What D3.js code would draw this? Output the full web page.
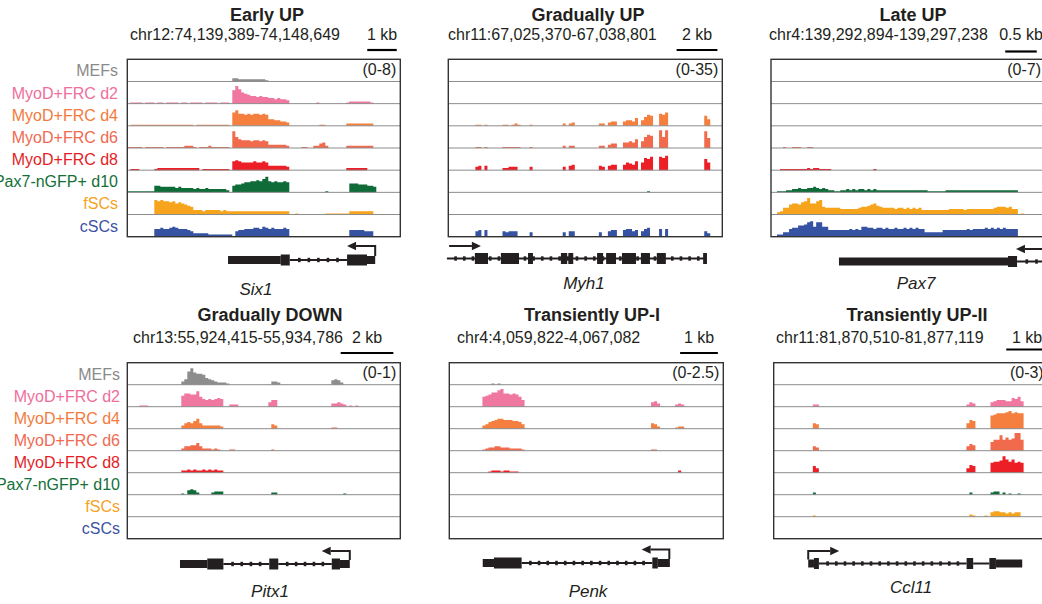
<!DOCTYPE html>
<html><head><meta charset="utf-8">
<script src="https://cdn.jsdelivr.net/npm/d3@7"></script>
<style>
body{margin:0;background:#fff}
svg{display:block}
text{font-family:"Liberation Sans",Arial,Helvetica,sans-serif;fill:#231f20}
</style>
</head><body>
<svg id="c" width="1042" height="604"></svg>
<script>
// ---------------- DATA ----------------
const trackNames = ["MEFs","MyoD+FRC d2","MyoD+FRC d4","MyoD+FRC d6","MyoD+FRC d8","Pax7-nGFP+ d10","fSCs","cSCs"];
const trackColors = ["#8d8d8d","#ef77a0","#f47f3f","#f26a4c","#ec1f27","#0f6b38","#f7a41d","#3552a3"];
const labelColors = ["#8a8a8a","#ee6f9d","#f27b3d","#f06a51","#e41e26","#137038","#f6a21e","#3c53a3"];

const panelTitles = ["Early UP","Gradually UP","Late UP","Gradually DOWN","Transiently UP-I","Transiently UP-II"];
const panelLoci = ["chr12:74,139,389-74,148,649","chr11:67,025,370-67,038,801","chr4:139,292,894-139,297,238",
                   "chr13:55,924,415-55,934,786","chr4:4,059,822-4,067,082","chr11:81,870,510-81,877,119"];
const scaleKb = [1, 2, 0.5, 2, 1, 1];
const scaleLabels = ["1 kb","2 kb","0.5 kb","2 kb","1 kb","1 kb"];
const dataMax = [8, 35, 7, 1, 2.5, 3];
const rangeLabels = ["(0-8)","(0-35)","(0-7)","(0-1)","(0-2.5)","(0-3)"];
const geneNames = ["Six1","Myh1","Pax7","Pitx1","Penk","Ccl11"];

// coverage: one character per bin (base-36 level, 20 = track maximum), groups of 10 bins
const covEarlyUp = [
 "0000000000 0000000000 0000000000 0000033222 2222221000",
 "0111101110 1101111011 0111101111 01110cgda9 8776766554 5443000000 0001000000 0001222222 2100000000",
 "0111111111 1111111111 1101111111 11110cebba babbaba665 5443000000 0000110000 0002222222 2200000000",
 "1111101111 1101111112 2210111211 11110fa877 7677676333 3332000011 0022452000 0002222222 2200000000",
 "0111000001 2222222222 2222011111 1111089877 7787787444 4443000000 0000000000 0002222222",
 "1111111116 6555554544 4434334333 3332067789 9aabacea9a 99a9000000 0000001000 0000888777 6650000000",
 "000000000d cdccbcaba9 8744434444 4343333333 3333333333 3333001000 0000001111 1111333333 3300000000",
 "0000000007 7877898777 6533333222 2222205667 7788798787 7787000000 0000000000 0000666665 5500000000"
];
const covGraduallyUp = [
 "",
 "",
 "0000000001 1010000011 0121000100 0000000020 2300000000 2203440045 547058a900 bac0000000 0000096000",
 "0000000001 1010000011 1111000100 0000000020 2200000000 2203440055 65806acb00 gag0000000 00000f9000",
 "0000000003 4040000022 3330000300 0000000030 4500000000 4304550057 65807bac00 cbd0000000 00000a7000",
 "0000000000 0000000000 0000000000 0000000000 0000000000 0000000000 0000001000",
 "",
 "0000000005 6060000054 5550000400 0000000040 5500000000 4005660067 7560578000 7070000000 0000053000"
];
const covLateUp = [
 "",
 "",
 "",
 "0000100111 0011000000",
 "0001111111 1121221111 0000000000 0000100000",
 "0011122334 3344543432 2112232323 3232322222 2222222222 2211111122 2222222222 2222222222 2200000000",
 "0023669aa9 bcfaacd766 6665555556 7789a87666 6566565656 4444444445 5555455555 5555677767 5501000000",
 "002244788a abde9dd996 6666667676 9988788787 7877878787 7444444666 6666676777 7878787877 7700000000"
];
const covGraduallyDown = [
 "0000000000 0000000035 cfbaa96543 2221000000 0000000033 2000000000 0000000045 4200000000",
 "0000111000 00000000ac cbbe976767 8700222000 0000000466 0000000000 0000000033 4320101000",
 "0000000000 0000000035 6579533333 3200000000 0000000043 0000000000 0000000011",
 "0000000000 0000000024 4557422212 1000110000 0000000010",
 "0000000000 0000000022 3232232323 2200000000",
 "0000000000 0000000010 4542000023 3300000000 0000000022 0000000000 0000000000 0010000000",
 "",
 ""
];
const covTransientlyUp1 = [
 "0000000000 0000101000",
 "0000000000 09abddfgcc bcb9600000 0000000000 0000000000 0000000000 0000000453 0000023200",
 "0000000000 0346789988 8776400000 0000000000 0000000000 0000000000 0000000542 0000012200",
 "0000000000 0123344333 2222100000 0000000000 0000000000 0000000000 0000000110",
 "0000000000 0001222122 1110000000 0000000000 0000000000 0000000000 0000000000 0000002000",
 "",
 "",
 ""
];
const covTransientlyUp2 = [
 "",
 "0000000000 0002200000 0000000000 0000000000 0000000000 0000000000 0000243000 0045666558 7950000000",
 "0000000000 0005400000 0000000000 0000000000 0000000000 0000000000 0000587000 00cdeeefge fee0000000",
 "0000000000 0004300000 0000000000 0000000000 0000000000 0000000000 0000465000 008aaeacab gga0000000",
 "0000000000 0006400000 0000000000 0000000000 0000000000 0000000000 0000476000 009aabfcac 9a90000000",
 "0000000000 0002000000 0000000000 0000000000 0000000000 0000000000 0000020000 0023302010 0100000000",
 "0000000000 0001000000 0000000000 0000000000 0000000000 0000000000 0000021000 1045544343 4400000000",
 ""
];
const coverageSets = [covEarlyUp, covGraduallyUp, covLateUp, covGraduallyDown, covTransientlyUp1, covTransientlyUp2];

// gene models, positions in % of the window
const geneSix1  = [["utr",36.9,56.2],["exon",56.2,59.5],["intron",59.5,80.5],["exon",80.5,87.8],["utr",87.8,90.8]];
const geneMyh1  = [["intron",-0.5,94.4],["exon",9.7,14.5],["exon",19.2,25.8],["exon",29.1,30.9],["exon",41.1,43.4],
                   ["exon",43.8,45.6],["exon",54.3,56.5],["exon",57.6,61.2],["exon",63.4,68.5],["exon",70.3,73.6],
                   ["exon",76.1,79.4],["exon",93.0,94.4]];
const genePax7  = [["utr",24.8,86.5],["exon",86.5,89.8],["intron",89.8,104]];
const genePitx1 = [["utr",19.3,29.3],["exon",29.3,35.2],["intron",35.2,52.0],["exon",52.0,55.3],["intron",55.3,74.9],["exon",74.9,77.9],["utr",77.9,81.5]];
const genePenk  = [["utr",12.2,16.3],["exon",16.3,26.4],["intron",26.4,74.1],["exon",74.1,76.1],["utr",76.1,80.5]];
const geneCcl11 = [["utr",12.6,14.7],["exon",14.7,16.5],["intron",16.5,70.4],["exon",70.4,72.8],["intron",72.8,78.7],["exon",78.7,81.1],["utr",81.1,90.7]];
const geneModels = [geneSix1, geneMyh1, genePax7, genePitx1, genePenk, geneCcl11];
// transcription start arrows: [start %, tip %, with riser]
const tssArrows = [[90.8,80.5,true],[0.3,11.9,false],[101,89.4,false],[81.5,71.2,true],[80.3,70.2,true],[12.6,23.9,true]];

// ---------------- LAYOUT ----------------
const layout = [
 {x0:127.3,y0:59.3,w:273,h:177.4,tX:267,tY:21,locX:130,locY:40,kbX:382,barY:50,geneY:260,arrY:246,nX:256,nY:295,labels:true,lX:118},
 {x0:448.3,y0:59.3,w:274,h:177.4,tX:588,tY:21,locX:448,locY:40,kbX:697,barY:50,geneY:258.5,arrY:246,nX:584,nY:289},
 {x0:771,y0:59.3,w:274,h:177.4,tX:913,tY:21,locX:769,locY:40,kbX:1021,barY:51.5,geneY:261.5,arrY:249,nX:916,nY:289},
 {x0:127.3,y0:362.7,w:273,h:176,tX:270,tY:321,locX:133,locY:343,kbX:367,barY:353,geneY:564,arrY:551,nX:270,nY:597,labels:true,lX:120},
 {x0:449.3,y0:362.7,w:274,h:176,tX:592,tY:321,locX:457,locY:343,kbX:699,barY:353,geneY:563,arrY:549.5,nX:588,nY:597},
 {x0:773.7,y0:362.7,w:274,h:176,tX:917,tY:321,locX:776,locY:343,kbX:1027,barY:349.5,geneY:563.5,arrY:551,nX:911,nY:593}
];

// ---------------- DRAW ----------------
const svg = d3.select("#c");
const defs = svg.append("defs");

panelTitles.forEach((title, pi) => {
  const L = layout[pi];
  const g = svg.append("g");
  const nT = trackNames.length;
  const rowH = L.h / nT;

  // header
  g.append("text").attr("x", L.tX).attr("y", L.tY).attr("text-anchor","middle")
    .style("font-size","18px").style("font-weight","bold").text(title);
  g.append("text").attr("x", L.locX).attr("y", L.locY).style("font-size","16px").text(panelLoci[pi]);
  g.append("text").attr("x", L.kbX).attr("y", L.locY).attr("text-anchor","middle").style("font-size","16px").text(scaleLabels[pi]);

  // genomic scale for the scale bar
  const m = panelLoci[pi].replace(/,/g,"").match(/:(\d+)-(\d+)/);
  const gStart = +m[1], gEnd = +m[2];
  const gScale = d3.scaleLinear().domain([gStart, gEnd]).range([L.x0, L.x0 + L.w]);
  const barW = gScale(gStart + scaleKb[pi]*1000) - gScale(gStart);
  g.append("line").attr("x1", L.kbX - barW/2).attr("x2", L.kbX + barW/2)
    .attr("y1", L.barY).attr("y2", L.barY).attr("stroke","#000").attr("stroke-width",2.2);

  // clip
  const cid = "clip" + pi;
  defs.append("clipPath").attr("id", cid).append("rect")
    .attr("x", L.x0).attr("y", L.y0).attr("width", L.w).attr("height", L.h);

  const binX = d3.scaleLinear().domain([0, 91]).range([L.x0, L.x0 + L.w]);
  const cov = coverageSets[pi];
  const covG = g.append("g").attr("clip-path", `url(#${cid})`);

  cov.forEach((str, ti) => {
    const levels = str.replace(/ /g, "").split("").map(c => parseInt(c, 36) / 20 * dataMax[pi]);
    if (!levels.some(v => v > 0)) return;
    const base = L.y0 + rowH * (ti + 1);
    const y = d3.scaleLinear().domain([0, dataMax[pi]]).range([base, base - rowH]);
    const pts = levels.map((v, i) => ({v, i}));
    pts.push({v: 0, i: levels.length});
    const area = d3.area().curve(d3.curveStepAfter)
      .x(d => binX(d.i)).y0(base).y1(d => y(d.v));
    covG.append("path").attr("d", area(pts)).attr("fill", trackColors[ti]);
  });

  // grid lines between tracks
  for (let i = 1; i < nT; i++) {
    const yy = L.y0 + rowH * i;
    g.append("line").attr("x1", L.x0).attr("x2", L.x0 + L.w).attr("y1", yy).attr("y2", yy)
      .attr("stroke", "#8c8c8c").attr("stroke-width", 1);
  }
  // frame
  g.append("rect").attr("x", L.x0).attr("y", L.y0).attr("width", L.w).attr("height", L.h)
    .attr("fill", "none").attr("stroke", "#333").attr("stroke-width", 1.4);

  g.append("text").attr("x", L.x0 + L.w - 4).attr("y", L.y0 + 15.5).attr("text-anchor","end")
    .style("font-size","16px").text(rangeLabels[pi]);

  // track labels
  if (L.labels) {
    trackNames.forEach((nm, ti) => {
      g.append("text").attr("x", L.lX).attr("y", L.y0 + rowH * (ti + 0.5) + 6)
        .attr("text-anchor","end").style("font-size","16px").style("fill", labelColors[ti]).text(nm);
    });
  }

  // gene model
  const gx = d3.scaleLinear().domain([0, 100]).range([L.x0, L.x0 + L.w]);
  const gy = L.geneY;
  geneModels[pi].forEach(([type, a, b]) => {
    if (type === "intron") {
      g.append("line").attr("x1", gx(a)).attr("x2", gx(b)).attr("y1", gy).attr("y2", gy)
        .attr("stroke", "#231f20").attr("stroke-width", 2);
      const x1 = gx(a), x2 = gx(b);
      const n = Math.floor((x2 - x1) / 8.5);
      for (let k = 1; k < n; k++) {
        const xx = x1 + k * (x2 - x1) / n;
        g.append("rect").attr("x", xx - 1.3).attr("y", gy - 2.2).attr("width", 2.6).attr("height", 4.4).attr("fill", "#231f20");
      }
    } else {
      const hh = type === "exon" ? 11 : 8;
      g.append("rect").attr("x", gx(a)).attr("width", gx(b) - gx(a)).attr("y", gy - hh/2).attr("height", hh)
        .attr("fill", "#231f20");
    }
  });
  const [at, tip, riser] = tssArrows[pi];
  const dir = Math.sign(tip - at);
  const ax = gx(at), tx = gx(tip), ay = L.arrY;
  const headL = 9;
  let path = riser ? `M${ax},${gy - 4} V${ay} H${tx - dir*headL}` : `M${ax},${ay} H${tx - dir*headL}`;
  g.append("path").attr("d", path).attr("fill","none").attr("stroke","#231f20").attr("stroke-width",2);
  g.append("path").attr("d", `M${tx},${ay} L${tx - dir*headL},${ay - 4.2} L${tx - dir*headL},${ay + 4.2} Z`).attr("fill","#231f20");

  g.append("text").attr("x", L.nX).attr("y", L.nY).attr("text-anchor","middle")
    .style("font-size","17px").style("font-style","italic").text(geneNames[pi]);
});
</script>
</body></html>
